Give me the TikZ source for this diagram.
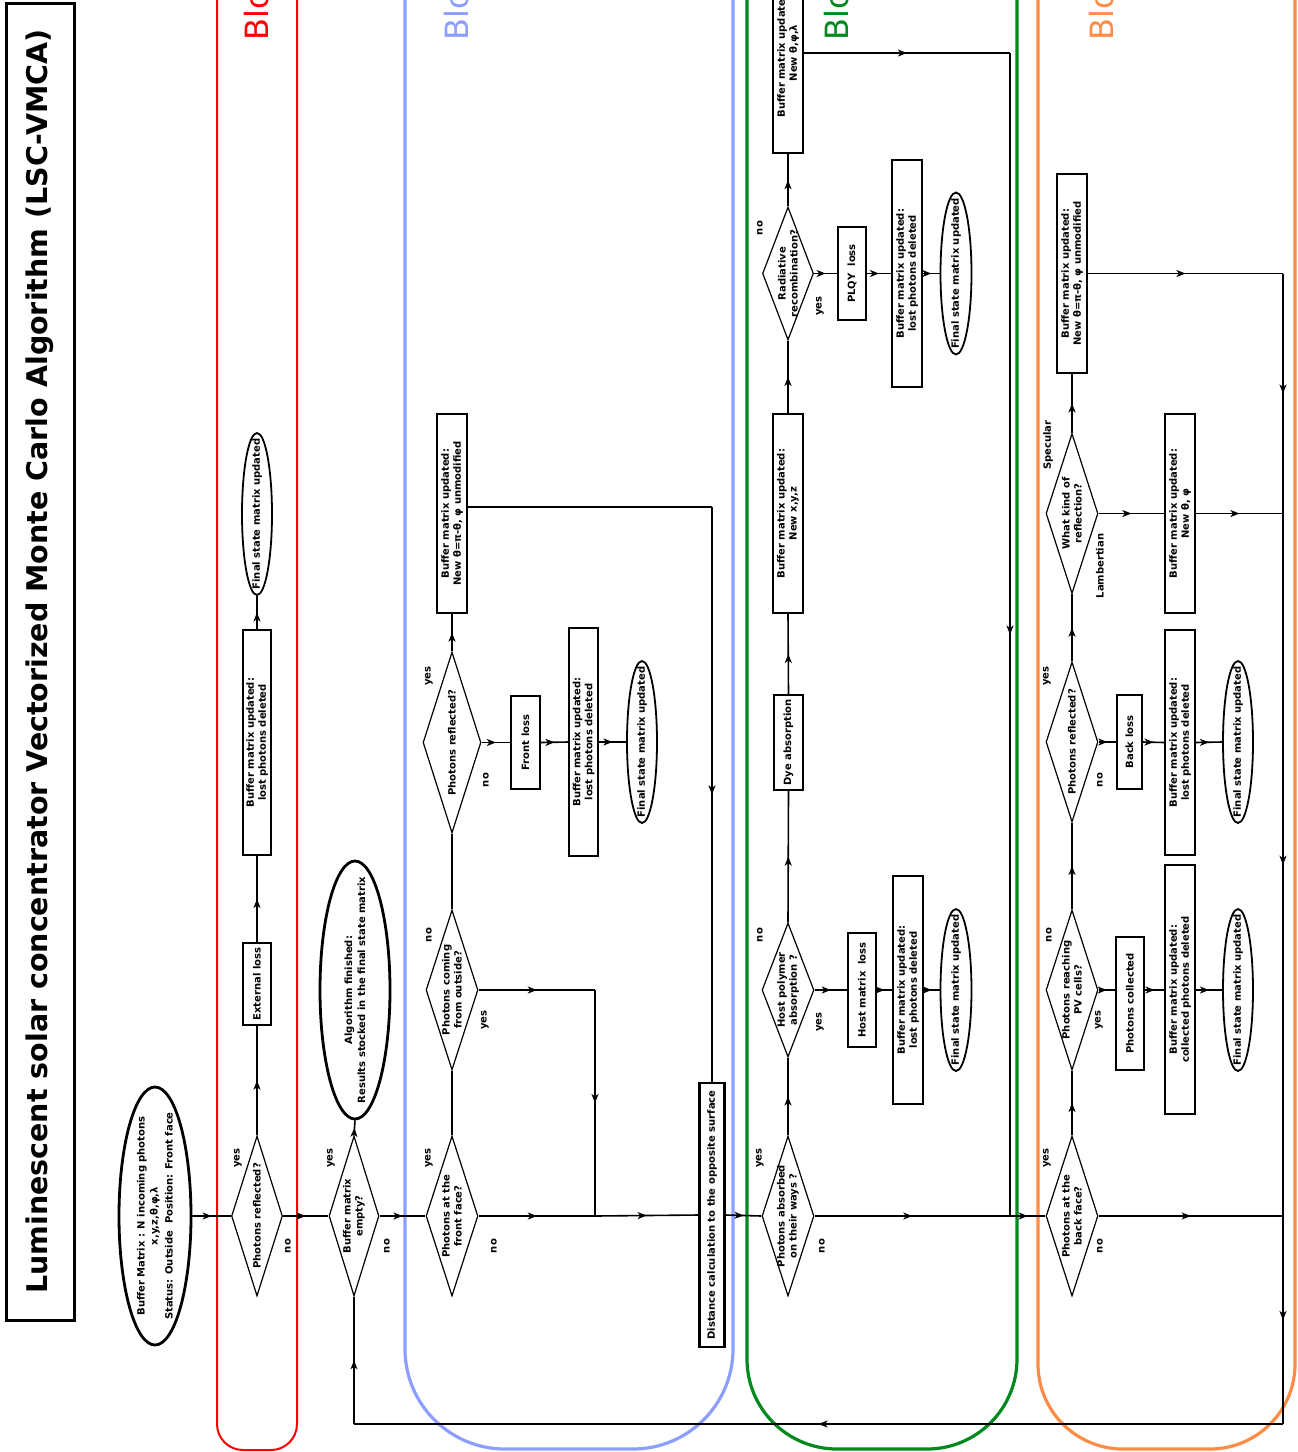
\documentclass[tikz,border=0pt]{standalone}
\usepackage{fontspec}
\setmainfont{DejaVu Sans}
\usetikzlibrary{arrows.meta,decorations.markings,shapes.geometric}
\definecolor{bred}{RGB}{255,0,0}
\definecolor{bblue}{RGB}{140,158,255}
\definecolor{bgreen}{RGB}{0,138,30}
\definecolor{borange}{RGB}{255,140,70}
\begin{document}
\begin{tikzpicture}[x=1pt,y=-1pt,
  conn/.style={line width=1.6pt, postaction={decorate},
    decoration={markings, mark=at position 0.5 with {\arrow{Stealth[length=9pt,width=7pt,inset=2.5pt]}}}},
  plain/.style={line width=1.6pt},
  boxs/.style={draw, rectangle, line width=1.8pt, inner sep=0pt},
  dia/.style={draw, diamond, line width=1.2pt, inner sep=0pt},
  ell/.style={draw, ellipse, line width=1.8pt, inner sep=0pt},
  thickell/.style={draw, ellipse, line width=2.8pt, inner sep=0pt},
  lbl/.style={rotate=90, align=center, inner sep=0pt, font=\fontsize{10}{12}\selectfont\bfseries},
  blk/.style={rotate=90, anchor=base west, inner sep=0pt, font=\fontsize{32}{36}\selectfont},
]
\useasboundingbox (0,0) rectangle (1298,1452);
\clip (0,0) rectangle (1298,1452);

% block frames
\draw[bred, line width=2pt, rounded corners=26pt] (217,-40) -- (217,1450) -- (297,1450) -- (297,-40);
\draw[bblue, line width=3.2pt, rounded corners=100pt] (405,-40) -- (405,1449) -- (733,1449) -- (733,-40);
\draw[bgreen, line width=3.2pt, rounded corners=90pt] (747,-40) -- (747,1449) -- (1017,1449) -- (1017,-40);
\draw[borange, line width=3.2pt, rounded corners=85pt] (1038,-40) -- (1038,1449) -- (1295,1449) -- (1295,-40);
\node[blk, text=bred] (k1) at (268,41) {Blo};
\node[blk, text=bblue] (k2) at (468,41) {Blo};
\node[blk, text=bgreen] (k3) at (848,41) {Blo};
\node[blk, text=borange] (k4) at (1113,41) {Blo};

% title
\node[draw, line width=3pt, minimum width=68pt, minimum height=1317pt, inner sep=0pt] (title) at (40,661.5) {};
\node[rotate=90, inner sep=0pt, font=\fontsize{28.5}{34}\selectfont\bfseries] (titlet) at (title) {Luminescent solar concentrator Vectorized Monte Carlo Algorithm (LSC-VMCA)};

% start
\node[thickell, minimum width=72pt, minimum height=258pt] (start) at (155,1216) {};
\node[lbl, font=\fontsize{10}{13}\selectfont\bfseries] (startt) at (start) {Buffer Matrix : N incoming photons\\x,y,z,θ,φ,λ\\[2pt]Status: Outside\ \ Position: Front face};

% red block
\node[dia, minimum width=51pt, minimum height=160pt] (d1) at (257,1216) {};
\node[lbl] (d1t) at (d1) {Photons reflected?};
\node[lbl] (d1y) at (238,1158) {yes};
\node[lbl] (d1n) at (288,1246) {no};
\node[boxs, minimum width=28pt, minimum height=82pt] (ext) at (257,984) {};
\node[lbl] (extt) at (ext) {External loss};
\node[boxs, minimum width=28pt, minimum height=225pt] (rb1) at (257,742.5) {};
\node[lbl] (rb1t) at (rb1) {Buffer matrix updated:\\lost photons deleted};
\node[ell, minimum width=30pt, minimum height=162pt] (re1) at (257,514) {};
\node[lbl] (re1t) at (re1) {Final state matrix updated};

% buffer empty
\node[dia, minimum width=50pt, minimum height=160pt] (d2) at (354,1216) {};
\node[lbl] (d2t) at (d2) {Buffer matrix\\empty?};
\node[lbl] (d2y) at (331,1158) {yes};
\node[lbl] (d2n) at (387,1246) {no};
\node[thickell, minimum width=70pt, minimum height=258pt] (fin) at (355,990) {};
\node[lbl, font=\fontsize{10}{13}\selectfont\bfseries] (fint) at (fin) {Algorithm finished:\\Results stocked in the final state matrix};

% blue block
\node[dia, minimum width=52pt, minimum height=160pt] (d3) at (452,1216) {};
\node[lbl] (d3t) at (d3) {Photons at the\\front face?};
\node[lbl] (d3y) at (429,1158) {yes};
\node[lbl] (d3n) at (494,1246) {no};
\node[dia, minimum width=52pt, minimum height=160pt] (d4) at (452,990) {};
\node[lbl] (d4t) at (d4) {Photons coming\\from outside?};
\node[lbl] (d4n) at (429,935) {no};
\node[lbl] (d4y) at (485,1020) {yes};
\node[dia, minimum width=58pt, minimum height=181pt] (d5) at (452,742.5) {};
\node[lbl] (d5t) at (d5) {Photons reflected?};
\node[lbl] (d5y) at (429,676) {yes};
\node[lbl] (d5n) at (486,780) {no};
\node[boxs, minimum width=30pt, minimum height=199pt] (bb1) at (452,513.5) {};
\node[lbl] (bb1t) at (bb1) {Buffer matrix updated:\\New θ=π-θ, φ unmodified};
\node[boxs, minimum width=29pt, minimum height=93pt] (front) at (525.5,742.5) {};
\node[lbl] (frontt) at (front) {Front loss};
\node[boxs, minimum width=29pt, minimum height=228pt] (bb2) at (583.5,742) {};
\node[lbl] (bb2t) at (bb2) {Buffer matrix updated:\\lost photons deleted};
\node[ell, minimum width=30pt, minimum height=162pt] (be1) at (642,742) {};
\node[lbl] (be1t) at (be1) {Final state matrix updated};
\node[boxs, line width=2.4pt, minimum width=25pt, minimum height=264pt] (dist) at (712,1215) {};
\node[lbl] (distt) at (dist) {Distance calculation to the opposite surface};

% green block
\node[dia, minimum width=52pt, minimum height=160pt] (d6) at (788,1216) {};
\node[lbl] (d6t) at (d6) {Photons absorbed\\on their ways ?};
\node[lbl] (d6y) at (760,1158) {yes};
\node[lbl] (d6n) at (822,1246) {no};
\node[dia, minimum width=52pt, minimum height=134pt] (d7) at (788,990) {};
\node[lbl] (d7t) at (d7) {Host polymer\\absorption ?};
\node[lbl] (d7n) at (760,935) {no};
\node[lbl] (d7y) at (820,1022) {yes};
\node[boxs, minimum width=28pt, minimum height=114pt] (host) at (862,990) {};
\node[lbl] (hostt) at (host) {Host matrix\ \ loss};
\node[boxs, minimum width=30pt, minimum height=228pt] (gb1) at (908,990) {};
\node[lbl] (gb1t) at (gb1) {Buffer matrix updated:\\lost photons deleted};
\node[ell, minimum width=31pt, minimum height=162pt] (ge1) at (956,990) {};
\node[lbl] (ge1t) at (ge1) {Final state matrix updated};
\node[boxs, minimum width=29pt, minimum height=95pt] (dye) at (788.5,742.5) {};
\node[lbl] (dyet) at (dye) {Dye absorption};
\node[boxs, minimum width=30pt, minimum height=199pt] (gb2) at (788,513.5) {};
\node[lbl] (gb2t) at (gb2) {Buffer matrix updated:\\New x,y,z};
\node[dia, minimum width=51pt, minimum height=133pt] (d8) at (788,273.5) {};
\node[lbl] (d8t) at (d8) {Radiative\\recombination?};
\node[lbl] (d8n) at (760,228) {no};
\node[lbl] (d8y) at (820,306) {yes};
\node[boxs, minimum width=30pt, minimum height=200pt] (gb3) at (788,53) {};
\node[lbl] (gb3t) at (gb3) {Buffer matrix updated:\\New θ,φ,λ};
\node[boxs, minimum width=28pt, minimum height=93pt] (plqy) at (852,273.5) {};
\node[lbl] (plqyt) at (plqy) {PLQY\ \ loss};
\node[boxs, minimum width=30pt, minimum height=227pt] (gb4) at (907,273.5) {};
\node[lbl] (gb4t) at (gb4) {Buffer matrix updated:\\lost photons deleted};
\node[ell, minimum width=31pt, minimum height=162pt] (ge2) at (956,273.5) {};
\node[lbl] (ge2t) at (ge2) {Final state matrix updated};

% orange block
\node[dia, minimum width=52pt, minimum height=160pt] (d9) at (1072,1216) {};
\node[lbl] (d9t) at (d9) {Photons at the\\back face?};
\node[lbl] (d9y) at (1047,1158) {yes};
\node[lbl] (d9n) at (1100,1246) {no};
\node[dia, minimum width=52pt, minimum height=160pt] (d10) at (1072,990) {};
\node[lbl] (d10t) at (d10) {Photons reaching\\PV cells?};
\node[lbl] (d10n) at (1049,935) {no};
\node[lbl] (d10y) at (1099,1020) {yes};
\node[boxs, minimum width=28pt, minimum height=133pt] (pvc) at (1130,1003.5) {};
\node[lbl] (pvct) at (pvc) {Photons collected};
\node[boxs, minimum width=30pt, minimum height=249pt] (pcb) at (1180,989.5) {};
\node[lbl] (pcbt) at (pcb) {Buffer matrix updated:\\collected photons deleted};
\node[ell, minimum width=30pt, minimum height=162pt] (oe1) at (1238,990) {};
\node[lbl] (oe1t) at (oe1) {Final state matrix updated};
\node[dia, minimum width=52pt, minimum height=160pt] (d11) at (1072,742) {};
\node[lbl] (d11t) at (d11) {Photons reflected?};
\node[lbl] (d11y) at (1047,676) {yes};
\node[lbl] (d11n) at (1100,780) {no};
\node[boxs, minimum width=25pt, minimum height=94pt] (back) at (1129.5,742) {};
\node[lbl] (backt) at (back) {Back loss};
\node[boxs, minimum width=30pt, minimum height=225pt] (ob1) at (1180,742.5) {};
\node[lbl] (ob1t) at (ob1) {Buffer matrix updated:\\lost photons deleted};
\node[ell, minimum width=30pt, minimum height=162pt] (oe2) at (1238,742) {};
\node[lbl] (oe2t) at (oe2) {Final state matrix updated};
\node[dia, minimum width=52pt, minimum height=160pt] (d12) at (1072,513.5) {};
\node[lbl] (d12t) at (d12) {What kind of\\reflection?};
\node[lbl] (d12s) at (1048,445) {Specular};
\node[lbl] (d12l) at (1100,566) {Lambertian};
\node[boxs, minimum width=30pt, minimum height=199pt] (ob2) at (1072,273.5) {};
\node[lbl] (ob2t) at (ob2) {Buffer matrix updated:\\New θ=π-θ, φ unmodified};
\node[boxs, minimum width=30pt, minimum height=199pt] (ob3) at (1180,513.5) {};
\node[lbl] (ob3t) at (ob3) {Buffer matrix updated:\\New θ, φ};

% coordinates
\coordinate (j0) at (595,990);
\coordinate (j1) at (595,1216);
\coordinate (q1) at (467,507);
\coordinate (q2) at (712,507);
\coordinate (j2) at (1010,1216);
\coordinate (j3) at (1010,53);
\coordinate (o1) at (1283,273.5);
\coordinate (o2) at (1283,513.5);
\coordinate (o3) at (1283,1216);
\coordinate (o4) at (1283,1424);
\coordinate (o5) at (354,1424);

% connectors: red block
\draw[conn] (start.east) -- (d1.west);
\draw[conn] (d1.north) -- (ext.south);
\draw[conn] (ext.north) -- (rb1.south);
\draw[conn] (rb1.north) -- (re1.south);
\draw[conn] (d1.east) -- (d2.west);
\draw[conn] (d2.north) -- (fin.south);
\draw[conn] (d2.east) -- (d3.west);
% blue block
\draw[conn] (d3.east) -- (j1);
\draw[conn] (j1) -- (dist.west);
\draw[plain] (d3.north) -- (d4.south);
\draw[conn] (d4.east) -- (j0);
\draw[conn] (j0) -- (j1);
\draw[plain] (d4.north) -- (d5.south);
\draw[conn] (d5.north) -- (bb1.south);
\draw[conn] (d5.east) -- (front.west);
\draw[conn] (front.east) -- (bb2.west);
\draw[conn] (bb2.east) -- (be1.west);
\draw[plain] (q1) -- (q2);
\draw[conn] (q2) -- (dist.north);
% green block
\draw[conn] (dist.east) -- (d6.west);
\draw[conn] (d6.east) -- (j2);
\draw[conn] (j2) -- (d9.west);
\draw[conn] (d6.north) -- (d7.south);
\draw[conn] (d7.east) -- (host.west);
\draw[conn] (host.east) -- (gb1.west);
\draw[conn] (gb1.east) -- (ge1.west);
\draw[conn] (d7.north) -- (dye.south);
\draw[conn] (dye.north) -- (gb2.south);
\draw[conn] (gb2.north) -- (d8.south);
\draw[conn] (d8.north) -- (gb3.south);
\draw[conn] (d8.east) -- (plqy.west);
\draw[conn] (plqy.east) -- (gb4.west);
\draw[conn] (gb4.east) -- (ge2.west);
\draw[conn] (gb3.east) -- (j3);
\draw[conn] (j3) -- (j2);
% orange block
\draw[conn] (d9.north) -- (d10.south);
\draw[conn] (d10.east) -- (d10.east -| pvc.west);
\draw[conn] (pvc.east |- d10.east) -- (pcb.west |- d10.east);
\draw[conn] (pcb.east |- d10.east) -- (oe1.west);
\draw[conn] (d10.north) -- (d11.south);
\draw[conn] (d11.east) -- (back.west);
\draw[conn] (back.east) -- (ob1.west);
\draw[conn] (ob1.east) -- (oe2.west);
\draw[conn] (d11.north) -- (d12.south);
\draw[conn] (d12.north) -- (ob2.south);
\draw[conn] (d12.east) -- (ob3.west);
\draw[conn] (ob2.east) -- (o1);
\draw[conn] (o1) -- (o2);
\draw[conn] (ob3.east) -- (o2);
\draw[conn] (o2) -- (o3);
\draw[conn] (d9.east) -- (o3);
\draw[conn] (o3) -- (o4);
\draw[conn] (o4) -- (o5);
\draw[conn] (o5) -- (d2.south);
\end{tikzpicture}
\end{document}
